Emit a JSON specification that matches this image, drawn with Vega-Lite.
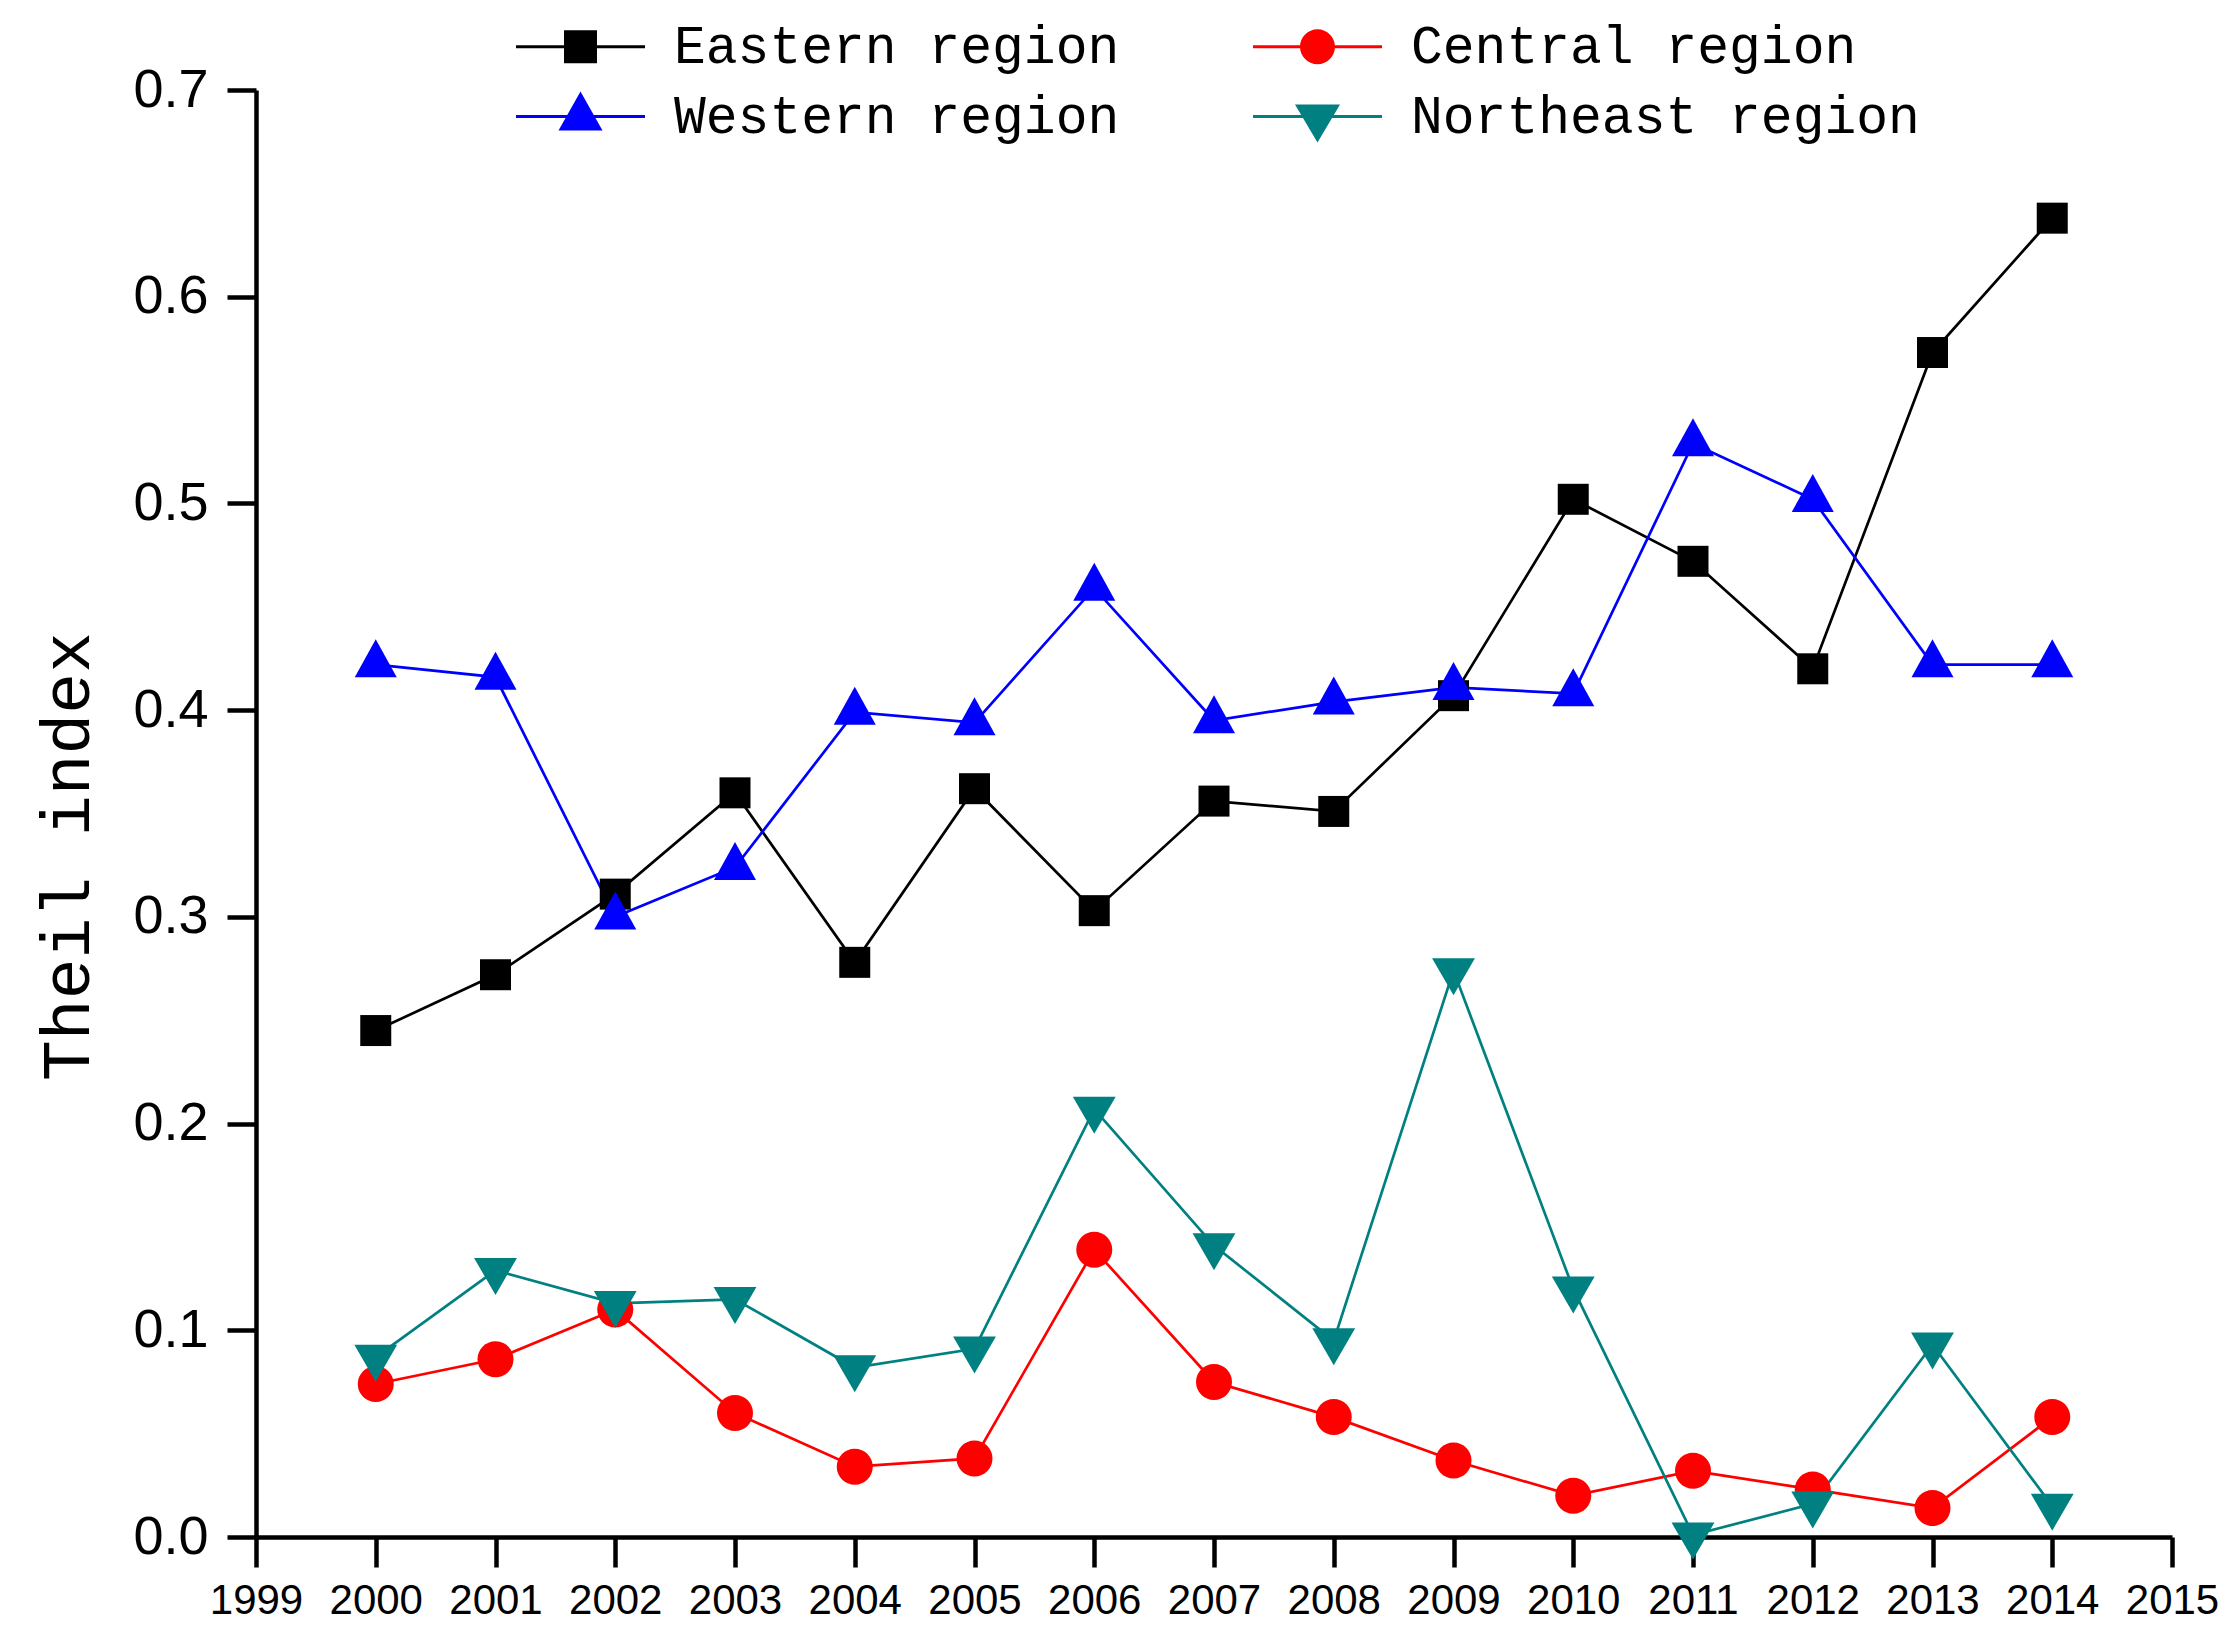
{
  "$schema": "https://vega.github.io/schema/vega-lite/v6.json",
  "autosize": "none",
  "width": 1916,
  "height": 1447,
  "padding": {"left": 256, "top": 90, "right": 68, "bottom": 107},
  "background": "white",
  "data": {
    "values": [
      {"year": 2000, "region": "Eastern region", "value": 0.245},
      {"year": 2001, "region": "Eastern region", "value": 0.272},
      {"year": 2002, "region": "Eastern region", "value": 0.311},
      {"year": 2003, "region": "Eastern region", "value": 0.360},
      {"year": 2004, "region": "Eastern region", "value": 0.278},
      {"year": 2005, "region": "Eastern region", "value": 0.362},
      {"year": 2006, "region": "Eastern region", "value": 0.303},
      {"year": 2007, "region": "Eastern region", "value": 0.356},
      {"year": 2008, "region": "Eastern region", "value": 0.351},
      {"year": 2009, "region": "Eastern region", "value": 0.407},
      {"year": 2010, "region": "Eastern region", "value": 0.502},
      {"year": 2011, "region": "Eastern region", "value": 0.472},
      {"year": 2012, "region": "Eastern region", "value": 0.420},
      {"year": 2013, "region": "Eastern region", "value": 0.573},
      {"year": 2014, "region": "Eastern region", "value": 0.638},
      {"year": 2000, "region": "Central region", "value": 0.074},
      {"year": 2001, "region": "Central region", "value": 0.086},
      {"year": 2002, "region": "Central region", "value": 0.110},
      {"year": 2003, "region": "Central region", "value": 0.060},
      {"year": 2004, "region": "Central region", "value": 0.034},
      {"year": 2005, "region": "Central region", "value": 0.038},
      {"year": 2006, "region": "Central region", "value": 0.139},
      {"year": 2007, "region": "Central region", "value": 0.075},
      {"year": 2008, "region": "Central region", "value": 0.058},
      {"year": 2009, "region": "Central region", "value": 0.037},
      {"year": 2010, "region": "Central region", "value": 0.020},
      {"year": 2011, "region": "Central region", "value": 0.032},
      {"year": 2012, "region": "Central region", "value": 0.023},
      {"year": 2013, "region": "Central region", "value": 0.014},
      {"year": 2014, "region": "Central region", "value": 0.058},
      {"year": 2000, "region": "Western region", "value": 0.422},
      {"year": 2001, "region": "Western region", "value": 0.416},
      {"year": 2002, "region": "Western region", "value": 0.300},
      {"year": 2003, "region": "Western region", "value": 0.324},
      {"year": 2004, "region": "Western region", "value": 0.399},
      {"year": 2005, "region": "Western region", "value": 0.394},
      {"year": 2006, "region": "Western region", "value": 0.459},
      {"year": 2007, "region": "Western region", "value": 0.395},
      {"year": 2008, "region": "Western region", "value": 0.404},
      {"year": 2009, "region": "Western region", "value": 0.411},
      {"year": 2010, "region": "Western region", "value": 0.408},
      {"year": 2011, "region": "Western region", "value": 0.529},
      {"year": 2012, "region": "Western region", "value": 0.502},
      {"year": 2013, "region": "Western region", "value": 0.422},
      {"year": 2014, "region": "Western region", "value": 0.422},
      {"year": 2000, "region": "Northeast region", "value": 0.087},
      {"year": 2001, "region": "Northeast region", "value": 0.129},
      {"year": 2002, "region": "Northeast region", "value": 0.113},
      {"year": 2003, "region": "Northeast region", "value": 0.115},
      {"year": 2004, "region": "Northeast region", "value": 0.082},
      {"year": 2005, "region": "Northeast region", "value": 0.091},
      {"year": 2006, "region": "Northeast region", "value": 0.207},
      {"year": 2007, "region": "Northeast region", "value": 0.141},
      {"year": 2008, "region": "Northeast region", "value": 0.095},
      {"year": 2009, "region": "Northeast region", "value": 0.274},
      {"year": 2010, "region": "Northeast region", "value": 0.120},
      {"year": 2011, "region": "Northeast region", "value": 0.001},
      {"year": 2012, "region": "Northeast region", "value": 0.016},
      {"year": 2013, "region": "Northeast region", "value": 0.093},
      {"year": 2014, "region": "Northeast region", "value": 0.015}
    ]
  },
  "encoding": {
    "x": {
      "field": "year",
      "type": "quantitative",
      "scale": {"domain": [1999, 2015], "nice": false, "zero": false},
      "axis": {
        "values": [1999, 2000, 2001, 2002, 2003, 2004, 2005, 2006, 2007, 2008, 2009, 2010, 2011, 2012, 2013, 2014, 2015],
        "format": "d",
        "title": null,
        "grid": false,
        "labelFont": "Liberation Sans",
        "labelFontSize": 42,
        "labelColor": "black",
        "labelPadding": 13,
        "labelFlush": false,
        "labelOverlap": false,
        "tickSize": 30,
        "tickWidth": 4.5,
        "tickColor": "black",
        "domainWidth": 4.5,
        "domainColor": "black"
      }
    },
    "y": {
      "field": "value",
      "type": "quantitative",
      "scale": {"domain": [0, 0.7], "nice": false},
      "axis": {
        "values": [0, 0.1, 0.2, 0.3, 0.4, 0.5, 0.6, 0.7],
        "format": ".1f",
        "grid": false,
        "labelFont": "Liberation Sans",
        "labelFontSize": 54,
        "labelColor": "black",
        "labelPadding": 19,
        "labelFlush": false,
        "labelOverlap": false,
        "tickSize": 29,
        "tickWidth": 4.5,
        "tickColor": "black",
        "domainWidth": 4.5,
        "domainColor": "black",
        "title": "Theil index",
        "titleFont": "Liberation Mono",
        "titleFontSize": 68,
        "titleFontWeight": "normal",
        "titleColor": "black",
        "titleAngle": -90,
        "titleAlign": "center",
        "titleBaseline": "alphabetic",
        "titleX": -168,
        "titleY": 766
      }
    },
    "color": {
      "field": "region",
      "type": "nominal",
      "scale": {
        "domain": ["Eastern region", "Central region", "Western region", "Northeast region"],
        "range": ["#000000", "#ff0000", "#0000ff", "#008080"]
      },
      "legend": {
        "title": null,
        "orient": "none",
        "legendX": 298,
        "legendY": -70,
        "columns": 2,
        "direction": "horizontal",
        "padding": 0,
        "offset": 0,
        "columnPadding": 133,
        "rowPadding": 16,
        "symbolSize": 1849,
        "symbolStrokeWidth": 0,
        "symbolOpacity": 1,
        "symbolType": {
          "expr": "datum.value === 'Eastern region' ? 'M-3,-0.07H3V0.07H-3ZM-0.767,-0.767H0.767V0.767H-0.767Z' : datum.value === 'Central region' ? 'M-3,-0.07H3V0.07H-3ZM0.814,0A0.814,0.814,0,1,1,-0.814,0A0.814,0.814,0,1,1,0.814,0Z' : datum.value === 'Western region' ? 'M-3,-0.07H3V0.07H-3ZM0,-1.163L1.023,0.651L-1.023,0.651Z' : 'M-3,-0.07H3V0.07H-3ZM0,1.209L-1.047,-0.558L1.047,-0.558Z'"
        },
        "labelOffset": 67,
        "labelFont": "Liberation Mono",
        "labelFontSize": 53,
        "labelColor": "black",
        "labelLimit": 0
      }
    }
  },
  "layer": [
    {
      "mark": {"type": "line", "strokeWidth": 2.7}
    },
    {
      "mark": {"type": "point", "filled": true, "opacity": 1, "size": 1764, "strokeWidth": 0},
      "encoding": {
        "shape": {
          "field": "region",
          "type": "nominal",
          "scale": {
            "range": [
              "M0.857,0A0.857,0.857,0,1,1,-0.857,0A0.857,0.857,0,1,1,0.857,0Z",
              "M-0.738,-0.738H0.738V0.738H-0.738Z",
              "M0,1.173L1.02,-0.587L-1.02,-0.587Z",
              "M0,-1.207L1,0.603L-1,0.603Z"
            ]
          },
          "legend": null
        }
      }
    }
  ],
  "config": {
    "view": {"stroke": null},
    "axis": {"zindex": 1}
  }
}
